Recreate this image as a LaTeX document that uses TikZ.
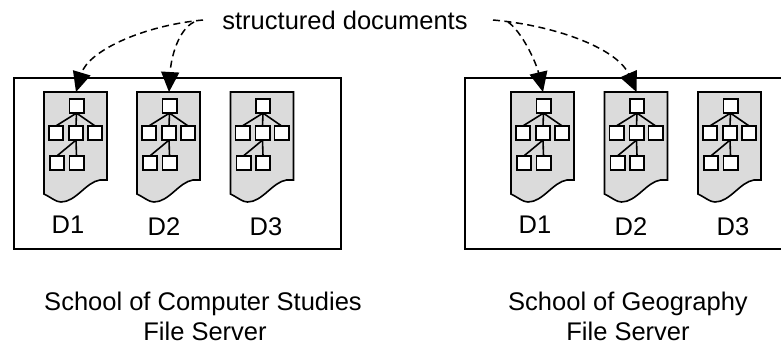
\documentclass[tikz,border=0pt]{standalone}
\usepackage{fontspec}
\setmainfont{Liberation Sans}
\usetikzlibrary{arrows.meta}
\tikzset{
  x=1pt,y=-1pt,
  server/.style={draw,line width=1.9pt},
  docshape/.style={draw,fill=black!14,line width=1.6pt},
  sq/.style={draw,fill=white,line width=1.8pt,minimum size=14.2pt,inner sep=0pt,outer sep=0pt},
  treeline/.style={line width=1.6pt},
  label/.style={inner sep=0pt,anchor=base,font=\fontsize{25.5}{30}\selectfont},
  link/.style={line width=1.5pt,dash pattern=on 7pt off 4.5pt,-{Triangle[length=20pt,width=18pt,sep=0pt]}},
  docpic/.pic={
    \draw[docshape] (0,0) -- (63,0) -- (63,88) -- (56,88) .. controls (42,90) and (32,110) .. (17,110)
      .. controls (12,110) and (8,106) .. (0,102) -- cycle;
    \coordinate (-tip) at (32,0);
    \node[sq] (-r) at (32.5,14) {};
    \node[sq] (-a) at (12,41) {};
    \node[sq] (-b) at (32,41) {};
    \node[sq] (-c) at (51,41) {};
    \node[sq] (-d) at (13,71) {};
    \node[sq] (-e) at (32.5,71) {};
    \draw[treeline] (-r.south) -- (-a.north) (-r.south) -- (-b.north) (-r.south) -- (-c.north)
      (-b.south) -- (-d.north) (-b.south) -- (-e.north);
  }
}
\begin{document}
\begin{tikzpicture}
\useasboundingbox (0,0) rectangle (781,345);
\node[server,minimum width=327.5pt,minimum height=171pt,inner sep=0pt,anchor=north west] (s1) at (12.7,77) {};
\node[server,minimum width=330pt,minimum height=171pt,inner sep=0pt,anchor=north west] (s2) at (464,77) {};
\pic (a1) at (44,92) {docpic};
\pic (a2) at (137,92) {docpic};
\pic (a3) at (230.5,92) {docpic};
\pic (b1) at (511,92) {docpic};
\pic (b2) at (604.5,92) {docpic};
\pic (b3) at (698,92) {docpic};
\node[label] (la1) at (68,233.3) {D1};
\node[label] (la2) at (164,235.7) {D2};
\node[label] (la3) at (266,235.7) {D3};
\node[label] (lb1) at (535,233.3) {D1};
\node[label] (lb2) at (631,235.7) {D2};
\node[label] (lb3) at (733,235.7) {D3};
\node[label] (title) at (345,30) {structured documents};
\node[label] (t1a) at (203,310.7) {School of Computer Studies};
\node[label] (t1b) at (205,340.7) {File Server};
\node[label] (t2a) at (628,310.7) {School of Geography};
\node[label] (t2b) at (628,340.7) {File Server};
\coordinate (c1) at (203,20);
\coordinate (c2) at (194,22);
\coordinate (c3) at (493,20);
\coordinate (c4) at (508,22);
\draw[link] (c1) .. controls (140,26) and (88,52) .. (a1-tip);
\draw[link] (c2) .. controls (178,30) and (171,58) .. (a2-tip);
\draw[link] (c4) .. controls (522,32) and (536,62) .. (b1-tip);
\draw[link] (c3) .. controls (560,26) and (618,50) .. (b2-tip);
\end{tikzpicture}
\end{document}
